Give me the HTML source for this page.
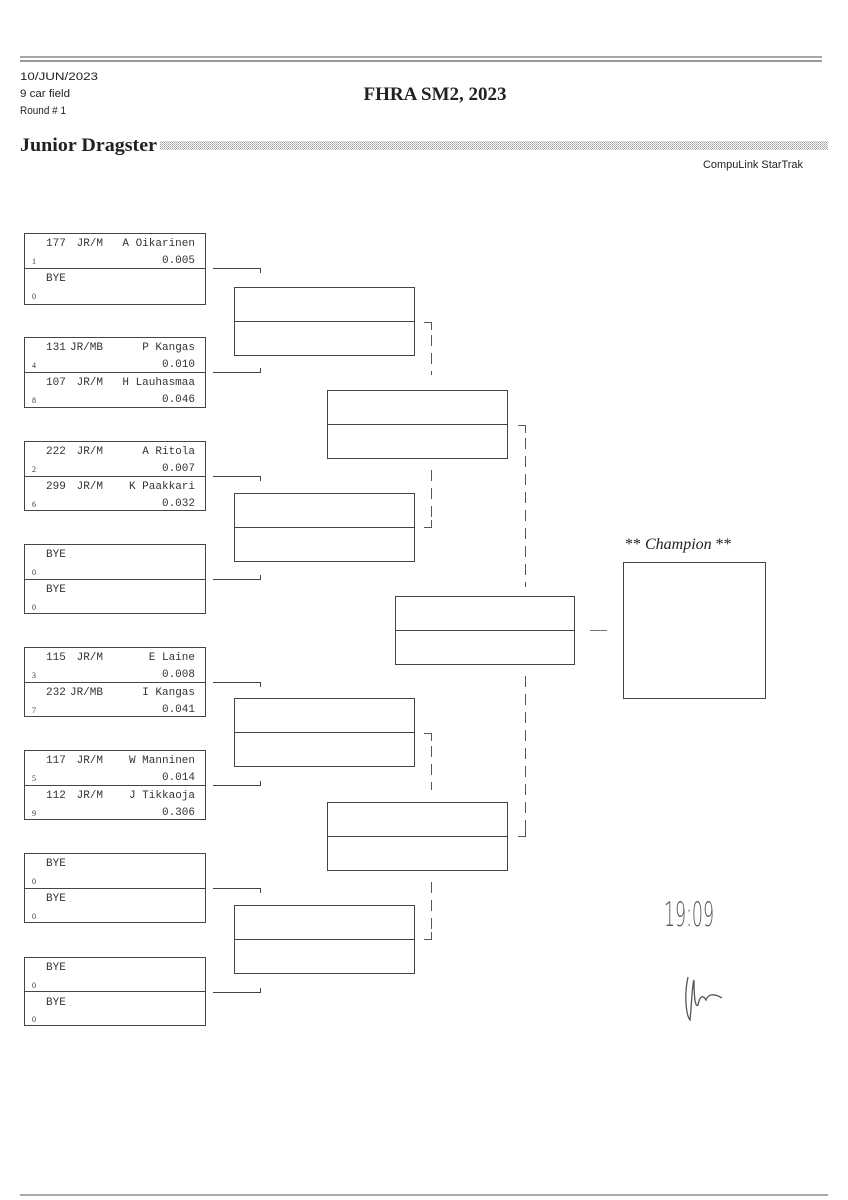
<!DOCTYPE html>
<html><head><meta charset="utf-8"><style>
html,body{margin:0;padding:0;background:#fff;}
svg{display:block}
.m{font-family:"Liberation Mono",monospace;font-size:11px;fill:#333}
.s{font-family:"Liberation Serif",serif;font-size:8px;fill:#333}
.h{font-family:"Liberation Sans",sans-serif;font-size:11px;fill:#222}
</style></head><body>
<svg width="848" height="1200" viewBox="0 0 848 1200" xmlns="http://www.w3.org/2000/svg">
<defs><pattern id="dp" width="2" height="2" patternUnits="userSpaceOnUse"><rect width="1" height="1" fill="#999"/><rect x="1" y="1" width="1" height="1" fill="#bbb"/></pattern></defs>
<line x1="20" y1="57" x2="822" y2="57" stroke="#888" stroke-width="1.5"/>
<line x1="20" y1="61" x2="822" y2="61" stroke="#333" stroke-width="1"/>
<text x="20" y="80" class="h" textLength="78" lengthAdjust="spacingAndGlyphs">10/JUN/2023</text>
<text x="20" y="97" class="h" textLength="50" lengthAdjust="spacingAndGlyphs">9 car field</text>
<text x="20" y="114" class="h" textLength="46" lengthAdjust="spacingAndGlyphs">Round # 1</text>
<text x="435" y="100" text-anchor="middle" font-family="Liberation Serif,serif" font-weight="bold" font-size="19" fill="#222">FHRA SM2, 2023</text>
<text x="20" y="151" font-family="Liberation Serif,serif" font-weight="bold" font-size="19" fill="#222" textLength="137" lengthAdjust="spacingAndGlyphs">Junior Dragster</text>
<rect x="160" y="141" width="668" height="9" fill="url(#dp)"/>
<text x="803" y="168" text-anchor="end" class="h" textLength="100" lengthAdjust="spacingAndGlyphs">CompuLink StarTrak</text>
<line x1="20" y1="1195" x2="828" y2="1195" stroke="#555" stroke-width="1"/>

<g fill="none" stroke="#444" stroke-width="1">
<rect x="24.5" y="233.5" width="181" height="71"/><line x1="24" y1="268.5" x2="205" y2="268.5"/>
<rect x="24.5" y="337.5" width="181" height="70"/><line x1="24" y1="372.5" x2="205" y2="372.5"/>
<rect x="24.5" y="441.5" width="181" height="69"/><line x1="24" y1="476.5" x2="205" y2="476.5"/>
<rect x="24.5" y="544.5" width="181" height="69"/><line x1="24" y1="579.5" x2="205" y2="579.5"/>
<rect x="24.5" y="647.5" width="181" height="69"/><line x1="24" y1="682.5" x2="205" y2="682.5"/>
<rect x="24.5" y="750.5" width="181" height="69"/><line x1="24" y1="785.5" x2="205" y2="785.5"/>
<rect x="24.5" y="853.5" width="181" height="69"/><line x1="24" y1="888.5" x2="205" y2="888.5"/>
<rect x="24.5" y="957.5" width="181" height="68"/><line x1="24" y1="991.5" x2="205" y2="991.5"/>
<rect x="234.5" y="287.5" width="180" height="68"/><line x1="234" y1="321.5" x2="414" y2="321.5"/>
<rect x="234.5" y="493.5" width="180" height="68"/><line x1="234" y1="527.5" x2="414" y2="527.5"/>
<rect x="234.5" y="698.5" width="180" height="68"/><line x1="234" y1="732.5" x2="414" y2="732.5"/>
<rect x="234.5" y="905.5" width="180" height="68"/><line x1="234" y1="939.5" x2="414" y2="939.5"/>
<rect x="327.5" y="390.5" width="180" height="68"/><line x1="327" y1="424.5" x2="507" y2="424.5"/>
<rect x="327.5" y="802.5" width="180" height="68"/><line x1="327" y1="836.5" x2="507" y2="836.5"/>
<rect x="395.5" y="596.5" width="179" height="68"/><line x1="395" y1="630.5" x2="574" y2="630.5"/>
<rect x="623.5" y="562.5" width="142" height="136"/>
<line x1="590" y1="630.5" x2="607" y2="630.5" stroke="#777"/>
<path d="M213 268.5H260.5V273"/><path d="M213 372.5H260.5V368"/>
<path d="M213 476.5H260.5V481"/><path d="M213 579.5H260.5V575"/>
<path d="M213 682.5H260.5V687"/><path d="M213 785.5H260.5V781"/>
<path d="M213 888.5H260.5V893"/><path d="M213 992.5H260.5V988"/>
</g>
<g fill="none" stroke="#555" stroke-width="1">
<path d="M424 322.5H431.5V330"/><line x1="431.5" y1="335" x2="431.5" y2="375" stroke-dasharray="11,7"/>
<line x1="431.5" y1="470" x2="431.5" y2="520" stroke-dasharray="11,7"/><path d="M431.5 520V527.5H424"/>
<path d="M424 733.5H431.5V741"/><line x1="431.5" y1="746" x2="431.5" y2="790" stroke-dasharray="11,7"/>
<line x1="431.5" y1="882" x2="431.5" y2="932" stroke-dasharray="11,7"/><path d="M431.5 932V939.5H424"/>
<path d="M518 425.5H525.5V433"/><line x1="525.5" y1="438" x2="525.5" y2="587" stroke-dasharray="11,7"/>
<line x1="525.5" y1="676" x2="525.5" y2="829" stroke-dasharray="11,7"/><path d="M525.5 829V836.5H518"/>
</g>

<g class="m">
<text x="46" y="246">177</text><text x="103" y="246" text-anchor="end">JR/M</text><text x="195" y="246" text-anchor="end">A Oikarinen</text><text x="195" y="263" text-anchor="end">0.005</text>
<text x="46" y="281">BYE</text>
<text x="46" y="350">131</text><text x="103" y="350" text-anchor="end">JR/MB</text><text x="195" y="350" text-anchor="end">P Kangas</text><text x="195" y="367" text-anchor="end">0.010</text>
<text x="46" y="385">107</text><text x="103" y="385" text-anchor="end">JR/M</text><text x="195" y="385" text-anchor="end">H Lauhasmaa</text><text x="195" y="402" text-anchor="end">0.046</text>
<text x="46" y="454">222</text><text x="103" y="454" text-anchor="end">JR/M</text><text x="195" y="454" text-anchor="end">A Ritola</text><text x="195" y="471" text-anchor="end">0.007</text>
<text x="46" y="489">299</text><text x="103" y="489" text-anchor="end">JR/M</text><text x="195" y="489" text-anchor="end">K Paakkari</text><text x="195" y="506" text-anchor="end">0.032</text>
<text x="46" y="557">BYE</text><text x="46" y="592">BYE</text>
<text x="46" y="660">115</text><text x="103" y="660" text-anchor="end">JR/M</text><text x="195" y="660" text-anchor="end">E Laine</text><text x="195" y="677" text-anchor="end">0.008</text>
<text x="46" y="695">232</text><text x="103" y="695" text-anchor="end">JR/MB</text><text x="195" y="695" text-anchor="end">I Kangas</text><text x="195" y="712" text-anchor="end">0.041</text>
<text x="46" y="763">117</text><text x="103" y="763" text-anchor="end">JR/M</text><text x="195" y="763" text-anchor="end">W Manninen</text><text x="195" y="780" text-anchor="end">0.014</text>
<text x="46" y="798">112</text><text x="103" y="798" text-anchor="end">JR/M</text><text x="195" y="798" text-anchor="end">J Tikkaoja</text><text x="195" y="815" text-anchor="end">0.306</text>
<text x="46" y="866">BYE</text><text x="46" y="901">BYE</text>
<text x="46" y="970">BYE</text><text x="46" y="1005">BYE</text>
</g>
<g class="s">
<text x="32" y="264">1</text><text x="32" y="299">0</text>
<text x="32" y="368">4</text><text x="32" y="403">8</text>
<text x="32" y="472">2</text><text x="32" y="507">6</text>
<text x="32" y="575">0</text><text x="32" y="610">0</text>
<text x="32" y="678">3</text><text x="32" y="713">7</text>
<text x="32" y="781">5</text><text x="32" y="816">9</text>
<text x="32" y="884">0</text><text x="32" y="919">0</text>
<text x="32" y="988">0</text><text x="32" y="1022">0</text>
</g>
<text x="625" y="549" font-family="Liberation Serif,serif" font-size="16" fill="#222">** <tspan font-style="italic">Champion</tspan> **</text>
<text x="664" y="926" font-family="DejaVu Sans,sans-serif" font-size="34" font-weight="200" fill="#555" textLength="50" lengthAdjust="spacingAndGlyphs">19:09</text>
<path d="M688 977 C684 995 686 1015 690 1020 C692 1000 692 985 694 980 C694 995 695 1008 698 1005 C700 995 703 995 706 1000 C708 994 714 993 722 998" fill="none" stroke="#555" stroke-width="1.3"/>
</svg>
</body></html>
